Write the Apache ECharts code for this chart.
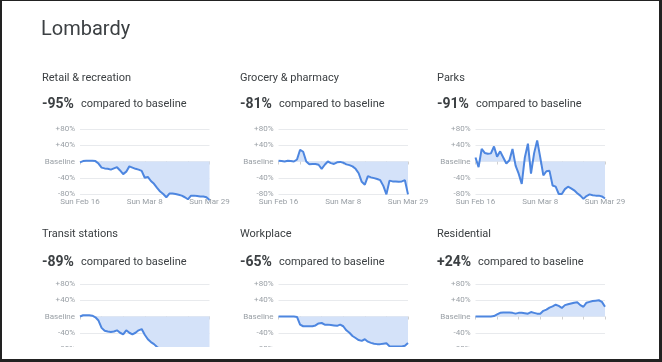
<!DOCTYPE html>
<html>
<head>
<meta charset="utf-8">
<script src="https://cdn.jsdelivr.net/npm/echarts@6/dist/echarts.min.js"></script>
<style>
html,body{margin:0;padding:0;background:#fff;}
#c{width:662px;height:362px;}
</style>
</head>
<body>
<div id="c"></div>
<script>
// ---- data ----
const regionTitle = 'Lombardy';
const categories = ['Feb 16','Feb 17','Feb 18','Feb 19','Feb 20','Feb 21','Feb 22','Feb 23','Feb 24','Feb 25','Feb 26','Feb 27','Feb 28','Feb 29',
  'Mar 1','Mar 2','Mar 3','Mar 4','Mar 5','Mar 6','Mar 7','Mar 8','Mar 9','Mar 10','Mar 11','Mar 12','Mar 13','Mar 14','Mar 15',
  'Mar 16','Mar 17','Mar 18','Mar 19','Mar 20','Mar 21','Mar 22','Mar 23','Mar 24','Mar 25','Mar 26','Mar 27','Mar 28','Mar 29'];
const xTickLabels = ['Sun Feb 16','Sun Mar 8','Sun Mar 29'];
const yTickLabels = ['-80%','-40%','Baseline','+40%','+80%'];
const panelNames = ['Retail & recreation','Grocery & pharmacy','Parks','Transit stations','Workplace','Residential'];
const panelChanges = ['-95%','-81%','-91%','-89%','-65%','+24%'];
const retail = [-2,1,2,2,2,1,-5,-15,-17,-18,-20,-17,-14,-22,-31,-25,-12,-15,-18,-20,-23,-40,-38,-48,-55,-65,-74,-80,-88,-79,-79,-80,-82,-84,-88,-93,-84,-84,-85,-86,-86,-88,-95];
const grocery = [2,1,0,2,1,0,5,29,24,0,-7,-6,-6,-8,-18,-8,0,-4,-6,-2,-1,-3,-7,-9,-12,-18,-29,-50,-57,-36,-39,-41,-43,-46,-60,-81,-47,-49,-49,-50,-49,-46,-81];
const parks = [10,-14,31,21,19,20,37,12,25,10,-5,3,31,-10,-30,-55,10,44,-30,20,52,10,-34,-24,-23,-59,-62,-80,-80,-68,-62,-66,-71,-78,-84,-92,-85,-81,-83,-84,-84,-86,-91];
const transit = [0,3,3,3,2,-2,-10,-28,-35,-37,-38,-37,-34,-40,-44,-34,-40,-44,-40,-34,-31,-45,-56,-63,-68,-75,-80,-83,-87,-85,-85,-86,-87,-87,-88,-90,-88,-88,-88,-88,-88,-88,-89];
const workplace = [0,0,0,0,0,0,-1,-20,-24,-24,-24,-24,-22,-17,-16,-20,-20,-21,-22,-23,-20,-24,-34,-40,-48,-53,-58,-60,-56,-62,-65,-67,-68,-68,-67,-66,-73,-74,-74,-74,-74,-72,-65];
const residential = [0,0,0,0,0,0,1,5,9,10,10,10,9,7,9,9,8,7,11,9,7,7,14,17,22,25,29,26,21,28,30,32,34,35,28,24,34,36,38,39,40,36,24];
const panelValues = [retail, grocery, parks, transit, workplace, residential];

// ---- layout ----
const colPlotLeft = [80, 278.5, 475.5];
const colTextLeft = [42, 240, 437];
const rowPlotTop = [129, 284];
const rowTitleY = [78, 234];
const rowValueY = [104, 262];
const plotW = 129.5, plotH = 65;
const FONT = 'Roboto, "Noto Sans", sans-serif';
const lineColor = '#4d86e0', areaColor = '#d4e2f9';

const grids = [], xAxes = [], yAxes = [], series = [], graphics = [];
graphics.push({type:'text', left: 41, top: 20, z: 50,
  style:{text: regionTitle, font: '20px ' + FONT, fill:'#3c4043'}});

panelNames.forEach((name, i) => {
  const r = Math.floor(i / 3), c = i % 3;
  grids.push({left: colPlotLeft[c], top: rowPlotTop[r], width: plotW, height: plotH, containLabel:false});
  xAxes.push({
    type:'category', gridIndex:i, data: categories, boundaryGap:false,
    axisLine:{show:false},
    axisTick:{show:true, length:3, interval:(idx)=>idx%7===0, lineStyle:{color:'#d0d0d0'}},
    axisLabel:{interval:(idx)=>idx%21===0, formatter:(v, idx)=>xTickLabels[Math.round(idx/21)],
      fontSize:8, color:'#9aa0a6', margin:4, fontFamily: FONT, showMinLabel:true, showMaxLabel:true},
    splitLine:{show:false}
  });
  yAxes.push({
    type:'value', gridIndex:i, min:-80, max:80, interval:40,
    axisLine:{show:false}, axisTick:{show:false},
    splitLine:{lineStyle:{color:'#e8eaed', width:1}},
    axisLabel:{formatter:(v)=>yTickLabels[Math.round((v+80)/40)], fontSize:8, color:'#9aa0a6', margin:5, fontFamily: FONT}
  });
  series.push({
    type:'line', xAxisIndex:i, yAxisIndex:i, data: panelValues[i],
    showSymbol:false, clip:false, silent:true,
    lineStyle:{color:lineColor, width:2},
    itemStyle:{color:lineColor},
    areaStyle:{color:areaColor, opacity:1, origin:0}
  });
  graphics.push({type:'text', x: colTextLeft[c], y: rowTitleY[r], z:50,
    style:{text:name, font:'11px ' + FONT, fill:'#3c4043', verticalAlign:'middle'}});
  graphics.push({type:'text', x: colTextLeft[c], y: rowValueY[r], z:50,
    style:{text:'{v|' + panelChanges[i] + '}{t|compared to baseline}', verticalAlign:'middle',
      rich:{
        v:{font:'bold 14px ' + FONT, fill:'#3c4043', padding:[0,7,0,0]},
        t:{font:'11px ' + FONT, fill:'#3c4043'}
      }}});
});

// crop mask and frame
graphics.push({type:'rect', z:100, shape:{x:0, y:347, width:662, height:15}, style:{fill:'#fff'}});
graphics.push({type:'rect', z:101, shape:{x:0, y:0, width:662, height:1}, style:{fill:'#222'}});
graphics.push({type:'rect', z:101, shape:{x:0, y:0, width:2, height:362}, style:{fill:'#222'}});
graphics.push({type:'rect', z:101, shape:{x:659, y:0, width:3, height:362}, style:{fill:'#222'}});
graphics.push({type:'rect', z:101, shape:{x:0, y:359, width:662, height:3}, style:{fill:'#222'}});

const chart = echarts.init(document.getElementById('c'), null, {renderer:'canvas'});
chart.setOption({
  animation:false,
  backgroundColor:'#fff',
  grid: grids, xAxis: xAxes, yAxis: yAxes, series: series,
  graphic: graphics
});
</script>
</body>
</html>
